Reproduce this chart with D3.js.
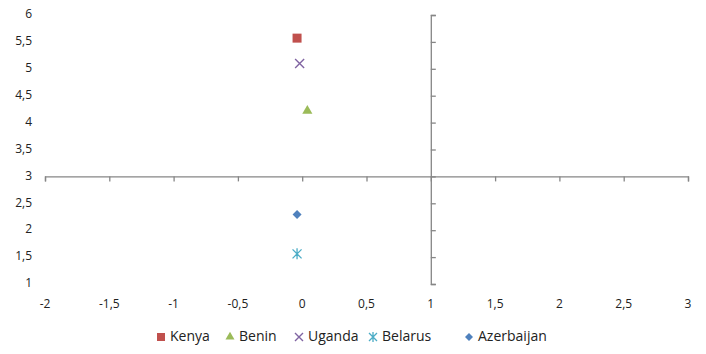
<!DOCTYPE html>
<html>
<head>
<meta charset="utf-8">
<script src="https://cdn.jsdelivr.net/npm/d3@7"></script>
<style>
  body { margin: 0; background: #fff; }
  svg text { font-family: "Open Sans", "Liberation Sans", sans-serif; fill: #222; }
</style>
</head>
<body>
<div id="chart"></div>
<script>
// series, one point each
const countries = ["Kenya", "Benin", "Uganda", "Belarus", "Azerbaijan"];
const xValues = [-0.04, 0.04, -0.02, -0.04, -0.04];
const yValues = [5.57, 4.22, 5.1, 1.56, 2.29];
const colors = ["#C0504D", "#9BBB59", "#8064A2", "#4BACC6", "#4F81BD"];
const symbols = ["square", "triangle", "cross", "star", "diamond"];

const xTicks = [-2, -1.5, -1, -0.5, 0, 0.5, 1, 1.5, 2, 2.5, 3];
const yTicks = [1, 1.5, 2, 2.5, 3, 3.5, 4, 4.5, 5, 5.5, 6];

const w = 706, h = 354;
const fmt = d => String(d).replace(".", ",");

const x = d3.scaleLinear().domain([-2, 3]).range([45, 688]);
const y = d3.scaleLinear().domain([1, 6]).range([284, 15]);

const svg = d3.select("#chart").append("svg")
  .attr("width", w)
  .attr("height", h);

// axes cross at x=1, y=3
const xAxis = d3.axisBottom(x).tickValues(xTicks).tickSize(5).tickFormat("");
const yAxis = d3.axisRight(y).tickValues(yTicks).tickSize(5).tickFormat("");

const gx = svg.append("g")
  .attr("transform", "translate(0," + y(3) + ")")
  .call(xAxis);
const gy = svg.append("g")
  .attr("transform", "translate(" + x(1) + ",0)")
  .call(yAxis);

[gx, gy].forEach(g => {
  g.selectAll("path").attr("stroke", "#868686").attr("stroke-width", 1.3);
  g.selectAll("line").attr("stroke", "#868686").attr("stroke-width", 1.3);
});

// tick labels sit at the low edges
svg.append("g").selectAll("text")
  .data(xTicks)
  .join("text")
  .attr("x", d => x(d))
  .attr("y", 305)
  .attr("text-anchor", "middle")
  .attr("dominant-baseline", "middle")
  .attr("font-size", 12)
  .text(fmt);

svg.append("g").selectAll("text")
  .data(yTicks)
  .join("text")
  .attr("x", 32)
  .attr("y", d => y(d))
  .attr("text-anchor", "end")
  .attr("dominant-baseline", "middle")
  .attr("font-size", 12)
  .text(fmt);

// marker shapes
function marker(sel, sym, color, size) {
  const s = size / 2;
  if (sym === "cross") {
    sel.append("path")
      .attr("d", `M${-s},${-s}L${s},${s}M${-s},${s}L${s},${-s}`)
      .attr("stroke", color).attr("stroke-width", 1.4).attr("fill", "none");
  } else if (sym === "star") {
    sel.append("path")
      .attr("d", `M${-s},${-s}L${s},${s}M${-s},${s}L${s},${-s}M0,${-s - 1}L0,${s + 1}`)
      .attr("stroke", color).attr("stroke-width", 1.3).attr("fill", "none");
  } else if (sym === "diamond") {
    sel.append("path")
      .attr("d", `M0,${-s}L${s},0L0,${s}L${-s},0Z`)
      .attr("fill", color);
  } else {
    const t = { square: d3.symbolSquare, triangle: d3.symbolTriangle }[sym];
    const area = { square: size * size, triangle: size * size * 0.55 }[sym];
    sel.append("path")
      .attr("d", d3.symbol().type(t).size(area)())
      .attr("fill", color);
  }
}

countries.forEach((c, i) => {
  const g = svg.append("g")
    .attr("transform", "translate(" + x(xValues[i]) + "," + y(yValues[i]) + ")");
  marker(g, symbols[i], colors[i], 9);
});

// legend
const legendX = [161, 230, 299, 373, 469];
countries.forEach((c, i) => {
  const g = svg.append("g").attr("transform", "translate(" + legendX[i] + ",337)");
  marker(g, symbols[i], colors[i], 8);
  g.append("text")
    .attr("x", 9)
    .attr("y", 0)
    .attr("dominant-baseline", "middle")
    .attr("font-size", 14)
    .text(c);
});
</script>
</body>
</html>
